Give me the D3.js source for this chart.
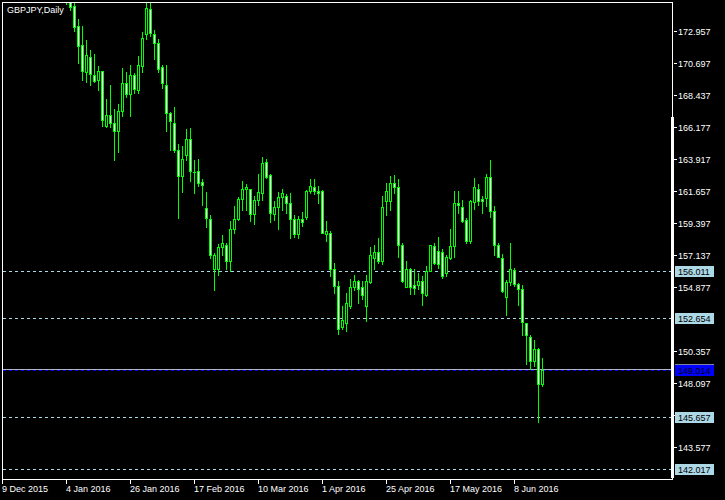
<!DOCTYPE html>
<html><head><meta charset="utf-8">
<script src="https://cdn.jsdelivr.net/npm/d3@7"></script>
<style>html,body{margin:0;padding:0;background:#000;} svg{display:block;} text{font-family:"Liberation Sans",Arial,sans-serif;font-size:9px;}</style>
</head><body><svg id="c" width="725" height="500"></svg>
<script>
const title = "GBPJPY,Daily";
const firstBar = 16; // bar index of first data point (bar 0 = 9 Dec 2015)
const opens = [176.30,175.60,174.73,173.31,171.95,170.06,171.15,169.89,169.49,170.11,166.24,167.04,166.43,165.91,167.33,169.26,168.50,169.89,168.78,170.48,
172.75,174.54,172.79,172.14,170.39,169.12,167.14,166.48,164.54,162.70,164.17,165.30,163.01,163.05,162.28,160.47,159.64,156.15,156.15,157.71,
157.85,156.72,158.98,159.64,161.10,161.80,161.76,160.01,161.05,161.48,163.69,162.75,160.06,160.54,161.24,161.29,160.82,159.69,158.60,159.64,
159.78,161.62,161.95,161.62,161.62,158.60,158.70,156.15,154.92,152.05,152.33,153.55,154.83,155.25,154.83,153.50,155.20,156.88,157.37,156.72,
160.91,160.96,162.23,161.95,157.85,154.88,156.10,155.02,155.02,155.30,154.31,156.01,157.75,157.42,157.32,155.82,156.90,157.75,160.77,160.54,
159.59,158.08,160.86,161.81,161.10,161.19,162.66,160.25,157.85,156.90,154.17,155.20,156.05,155.06,154.73,152.28,151.34,149.61,150.49,147.97];
const highs = [176.80,176.00,174.92,173.79,173.36,172.30,171.66,171.31,170.53,170.15,168.13,169.12,167.42,167.79,170.37,170.06,170.60,169.97,171.19,172.89,
175.01,174.99,173.03,172.42,170.58,170.58,167.23,167.61,165.01,164.82,166.05,166.10,163.88,163.95,162.47,161.57,159.92,157.28,157.87,158.51,
157.94,159.50,160.58,161.24,162.38,162.18,161.81,161.29,162.89,164.07,163.93,162.89,160.91,161.57,161.76,161.43,161.48,159.97,159.87,160.20,
161.71,162.47,162.52,162.04,161.71,159.55,158.84,156.57,155.30,153.55,154.45,155.44,155.72,155.39,155.25,155.68,157.66,157.85,158.36,161.29,
162.23,162.70,162.80,162.52,157.99,156.67,156.19,156.15,155.82,155.63,156.38,157.85,157.99,158.41,157.56,157.09,158.93,161.62,161.62,161.05,
159.73,161.05,162.56,162.13,161.29,162.89,163.88,160.58,157.94,157.23,155.39,157.94,156.24,155.16,154.97,152.33,151.50,151.10,150.58,149.85];
const lows = [174.85,174.49,172.99,170.74,169.54,169.33,169.12,169.33,168.78,166.22,166.20,166.19,163.88,164.40,166.99,168.32,166.94,168.55,168.55,170.06,
172.42,172.60,171.00,170.06,168.93,165.88,164.54,164.40,159.76,161.57,163.88,162.35,161.53,162.00,160.63,159.09,156.90,154.64,155.72,157.09,
156.15,156.01,158.70,159.59,160.34,160.29,159.52,159.35,160.63,161.00,162.56,159.45,159.59,158.93,160.29,160.11,158.36,158.41,158.36,159.21,
159.64,161.53,161.43,160.77,158.65,158.08,155.63,154.45,151.57,151.86,151.78,153.39,154.64,153.74,154.03,152.44,155.16,156.10,156.57,156.47,
159.92,160.34,161.53,157.00,155.20,154.83,154.35,154.35,154.73,153.60,154.21,155.96,156.47,156.19,155.53,155.63,156.85,157.00,160.11,159.45,
157.94,157.99,160.39,160.63,160.11,160.58,159.83,157.09,156.95,154.49,152.90,154.97,154.92,153.60,151.43,149.43,149.07,149.26,145.30,147.89];
const closes = [175.40,174.68,173.24,171.90,170.13,171.24,169.92,169.45,170.13,166.66,167.04,166.43,165.91,167.33,169.31,168.50,169.89,168.88,170.60,172.49,
174.61,172.84,172.14,170.30,169.31,167.14,166.57,164.54,162.70,163.93,165.35,163.05,162.99,162.23,162.09,159.76,157.09,157.14,157.71,157.99,
156.72,158.98,159.69,161.10,161.81,161.90,160.01,161.05,161.57,163.60,162.61,160.11,160.54,161.24,161.48,160.82,159.69,158.60,159.64,159.45,
161.62,162.04,161.62,161.53,158.70,158.79,156.15,154.92,151.91,152.56,153.70,154.88,155.25,154.73,154.26,155.30,157.14,157.37,156.72,160.54,
161.67,162.23,161.95,157.85,155.25,156.10,154.88,154.78,155.30,154.45,156.01,157.80,156.57,156.47,155.63,157.00,157.75,160.82,160.63,159.50,
158.13,160.91,161.95,160.91,160.96,162.66,160.25,157.85,157.00,154.59,155.20,156.10,155.06,154.73,152.37,151.48,149.61,150.49,148.01,149.014];
const dateLabels = ["9 Dec 2015","4 Jan 2016","26 Jan 2016","17 Feb 2016","10 Mar 2016","1 Apr 2016","25 Apr 2016","17 May 2016","8 Jun 2016"];
const dateIndex = [0,16,32,48,64,80,96,112,128];
const priceTicks = [172.957,170.697,168.437,166.177,163.917,161.657,159.397,157.137,154.877,150.357,148.097,145.837,143.577];
const levelLines = [156.011,152.654,145.657,142.017];
const lastPrice = 149.014;

const GREEN = "#00ff00", LB = "#add8e6";
const svg = d3.select("#c").attr("shape-rendering","crispEdges");
const x = d3.scaleLinear().domain([0,1]).range([2,6]);
const y = d3.scaleLinear().domain([143.577,172.957]).range([447,31.7]);
const fy = v => Math.floor(y(v));

svg.append("rect").attr("width",725).attr("height",500).attr("fill","#000");
const defs = svg.append("defs");
defs.append("clipPath").attr("id","plot").append("rect").attr("x",3).attr("y",3).attr("width",668).attr("height",476);
const plot = svg.append("g").attr("clip-path","url(#plot)");

// level lines
plot.selectAll("line.lvl").data(levelLines).join("line")
  .attr("x1",3).attr("x2",671).attr("y1",d=>fy(d)+0.5).attr("y2",d=>fy(d)+0.5)
  .attr("stroke",LB).attr("stroke-dasharray","3,3");
plot.append("line").attr("x1",3).attr("x2",671).attr("y1",fy(lastPrice)-0.5).attr("y2",fy(lastPrice)-0.5)
  .attr("stroke","#b4b4c8");
plot.append("line").attr("x1",3).attr("x2",671).attr("y1",fy(lastPrice)+0.5).attr("y2",fy(lastPrice)+0.5)
  .attr("stroke","#0000ff").attr("stroke-dasharray","3,3");

// candles
const bars = opens.map((o,k)=>({i:firstBar+k,o,h:highs[k],l:lows[k],c:closes[k]}));
const g = plot.selectAll("g.bar").data(bars).join("g");
g.append("rect").attr("x",d=>x(d.i)).attr("y",d=>fy(d.h)).attr("width",1)
  .attr("height",d=>fy(d.l)-fy(d.h)+1).attr("fill",GREEN);
g.append("rect").attr("x",d=>x(d.i)-1).attr("y",d=>fy(Math.max(d.o,d.c))).attr("width",3)
  .attr("height",d=>fy(Math.min(d.o,d.c))-fy(Math.max(d.o,d.c))+1).attr("fill",GREEN);
g.filter(d=>fy(Math.min(d.o,d.c))-fy(Math.max(d.o,d.c))>=2).append("rect")
  .attr("x",d=>x(d.i)).attr("y",d=>fy(Math.max(d.o,d.c))+1).attr("width",1)
  .attr("height",d=>fy(Math.min(d.o,d.c))-fy(Math.max(d.o,d.c))-1)
  .attr("fill",d=>d.c<d.o?"#ffffff":"#000000");

// frame
svg.append("rect").attr("x",2).attr("y",2).attr("width",671).attr("height",1).attr("fill","#fff");
svg.append("rect").attr("x",2).attr("y",2).attr("width",1).attr("height",478).attr("fill","#fff");
svg.append("rect").attr("x",2).attr("y",479).attr("width",671).attr("height",1).attr("fill","#fff");
svg.append("rect").attr("x",672).attr("y",2).attr("width",1).attr("height",478).attr("fill","#fff");
svg.append("rect").attr("x",671).attr("y",117).attr("width",3).attr("height",361).attr("fill","#fff");

// title
svg.append("text").attr("x",7).attr("y",13).attr("fill","#fff").text(title);

// y axis
const ya = svg.append("g");
ya.selectAll("rect").data(priceTicks).join("rect").attr("x",674).attr("y",d=>fy(d)).attr("width",3).attr("height",1).attr("fill","#fff");
ya.selectAll("text").data(priceTicks).join("text").attr("x",678).attr("y",d=>fy(d)+4).attr("fill","#fff").text(d=>d3.format(".3f")(d));

// x axis
const xa = svg.append("g");
xa.selectAll("rect").data(dateIndex).join("rect").attr("x",d=>x(d)).attr("y",479).attr("width",1).attr("height",5).attr("fill","#fff");
xa.selectAll("text").data(dateLabels).join("text").attr("x",(d,k)=>x(dateIndex[k])).attr("y",492).attr("fill","#fff").text(d=>d);

// level labels
const lab = svg.append("g");
lab.selectAll("rect").data(levelLines).join("rect").attr("x",675).attr("y",d=>fy(d)-5).attr("width",39).attr("height",11).attr("fill",LB);
lab.selectAll("text").data(levelLines).join("text").attr("x",678).attr("y",d=>fy(d)+4).attr("fill","#000").text(d=>d3.format(".3f")(d));
lab.append("rect").attr("x",675).attr("y",fy(lastPrice)-6).attr("width",39).attr("height",12).attr("fill","#0000ff");
lab.append("rect").attr("x",675).attr("y",fy(lastPrice)-6).attr("width",39).attr("height",1).attr("fill","#8080a0");
lab.append("text").attr("x",678).attr("y",fy(lastPrice)+4).attr("fill","#000").text(d3.format(".3f")(lastPrice));
</script></body></html>
